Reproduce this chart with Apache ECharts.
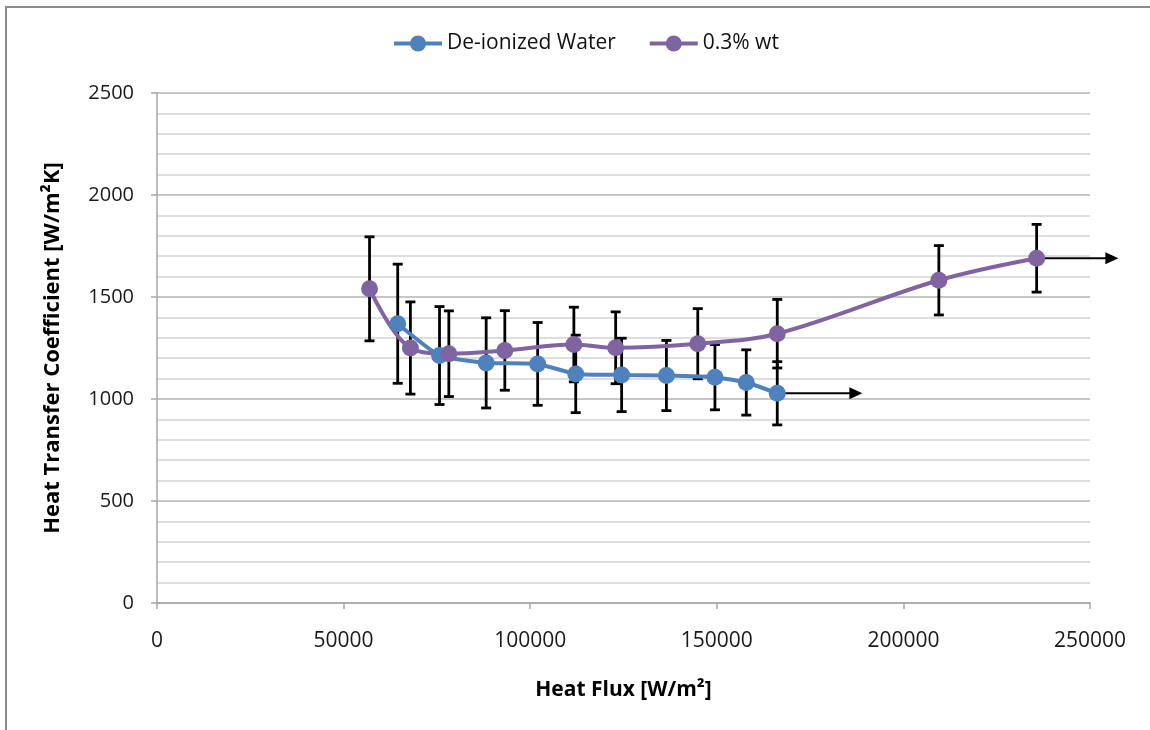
<!DOCTYPE html>
<html>
<head>
<meta charset="utf-8">
<script src="https://cdn.jsdelivr.net/npm/echarts@6/dist/echarts.min.js"></script>
<style>
html,body{margin:0;padding:0;background:#fff;}
#chart{width:1150px;height:730px;}
</style>
</head>
<body>
<div id="chart"></div>
<script>
// ---- data ----
const waterX   = [64500, 75700, 88200, 102000, 112200, 124500, 136500, 149500, 157900, 166200];
const waterY   = [1369, 1213, 1177, 1172, 1123, 1118, 1115, 1107, 1081, 1028];
const waterErr = [292, 240, 221, 203, 190, 180, 172, 160, 160, 155];

const nanoX    = [56950, 67900, 78200, 93200, 111700, 122900, 144900, 166200, 209500, 235700];
const nanoY    = [1540, 1250, 1222, 1238, 1267, 1251, 1271, 1320, 1582, 1690];
const nanoErr  = [255, 226, 210, 195, 183, 176, 172, 168, 170, 166];

// arrows: [startX, y, endX]
const arrows = [[166200, 1028, 189000], [235700, 1690, 257600]];

const seriesNames = ['De-ionized Water', '0.3% wt'];
const xTicks = { min: 0, max: 250000, interval: 50000 };
const yTicks = { min: 0, max: 2500, interval: 500 };

const font = '"Open Sans", "Noto Sans", sans-serif';
const zip = (xs, ys) => xs.map((x, i) => [x, ys[i]]);
const zip3 = (xs, ys, es) => xs.map((x, i) => [x, ys[i], es[i]]);

function renderErr(params, api) {
  const x = api.value(0), y = api.value(1), e = api.value(2);
  const t = api.coord([x, y + e]), b = api.coord([x, y - e]);
  const hw = 5;
  const style = { stroke: '#000', lineWidth: 2.8 };
  return { type: 'group', children: [
    { type: 'line', shape: { x1: t[0], y1: t[1], x2: b[0], y2: b[1] }, style },
    { type: 'line', shape: { x1: t[0] - hw, y1: t[1], x2: t[0] + hw, y2: t[1] }, style },
    { type: 'line', shape: { x1: b[0] - hw, y1: b[1], x2: b[0] + hw, y2: b[1] }, style }
  ]};
}
function renderArrow(params, api) {
  const p0 = api.coord([api.value(0), api.value(1)]);
  const p1 = api.coord([api.value(2), api.value(1)]);
  const L = 13, H = 6;
  return { type: 'group', children: [
    { type: 'line', shape: { x1: p0[0], y1: p0[1], x2: p1[0] - L + 1, y2: p1[1] },
      style: { stroke: '#000', lineWidth: 2 } },
    { type: 'polygon', shape: { points: [[p1[0], p1[1]], [p1[0] - L, p1[1] - H], [p1[0] - L, p1[1] + H]] },
      style: { fill: '#000' } }
  ]};
}

const chart = echarts.init(document.getElementById('chart'), null, { renderer: 'canvas' });
chart.setOption({
  backgroundColor: '#fff',
  animation: false,
  textStyle: { fontFamily: font },
  graphic: [{
    type: 'rect', shape: { x: 6, y: 7, width: 1300, height: 900 },
    style: { fill: 'none', stroke: '#8c8c8c', lineWidth: 2 }, z: -10
  }],
  legend: {
    data: seriesNames,
    left: 387, top: 28,
    itemWidth: 48, itemHeight: 20, itemGap: 32,
    lineStyle: { width: 4 },
    textStyle: { fontFamily: font, fontSize: 21, color: '#111' }
  },
  grid: { left: 157, right: 60, top: 93, bottom: 127, containLabel: false },
  xAxis: {
    type: 'value', min: xTicks.min, max: xTicks.max, interval: xTicks.interval,
    name: 'Heat Flux [W/m²]', nameLocation: 'middle', nameGap: 77,
    nameTextStyle: { fontFamily: font, fontSize: 21, fontWeight: 'bold', color: '#000' },
    axisLine: { show: true, lineStyle: { color: '#a6a6a6', width: 1.5 } },
    axisTick: { show: true, length: 6, lineStyle: { color: '#a6a6a6', width: 1.5 } },
    axisLabel: { fontFamily: font, fontSize: 21, color: '#1a1a1a', margin: 28,
      formatter: v => String(v) },
    splitLine: { show: false }
  },
  yAxis: {
    type: 'value', min: yTicks.min, max: yTicks.max, interval: yTicks.interval,
    name: 'Heat Transfer Coefficient [W/m²K]', nameLocation: 'middle', nameGap: 93,
    nameTextStyle: { fontFamily: font, fontSize: 22, fontWeight: 'bold', color: '#000' },
    axisLine: { show: true, lineStyle: { color: '#a6a6a6', width: 1.5 } },
    axisTick: { show: true, length: 6, lineStyle: { color: '#a6a6a6', width: 1.5 } },
    minorTick: { show: false, splitNumber: 5 },
    axisLabel: { fontFamily: font, fontSize: 20, color: '#1a1a1a', margin: 23,
      formatter: v => String(v) },
    splitLine: { show: true, lineStyle: { color: '#b3b3b3', width: 1.5 } },
    minorSplitLine: { show: true, lineStyle: { color: '#d4d4d4', width: 1.5 } }
  },
  series: [
    { name: 'errWater', type: 'custom', renderItem: renderErr, clip: false, z: 1,
      data: zip3(waterX, waterY, waterErr), silent: true },
    { name: 'errNano', type: 'custom', renderItem: renderErr, clip: false, z: 1,
      data: zip3(nanoX, nanoY, nanoErr), silent: true },
    { name: 'arrows', type: 'custom', renderItem: renderArrow, clip: false, z: 1,
      data: arrows, silent: true },
    { name: seriesNames[0], type: 'line', z: 3, smooth: 0.15,
      data: zip(waterX, waterY), color: '#4f81bd',
      symbol: 'circle', symbolSize: 17,
      lineStyle: { width: 4, color: '#4f81bd' },
      itemStyle: { color: '#4f81bd' } },
    { name: seriesNames[1], type: 'line', z: 3, smooth: 0.35,
      data: zip(nanoX, nanoY), color: '#8064a2',
      symbol: 'circle', symbolSize: 17,
      lineStyle: { width: 4, color: '#8064a2' },
      itemStyle: { color: '#8064a2' } }
  ]
});
</script>
</body>
</html>
